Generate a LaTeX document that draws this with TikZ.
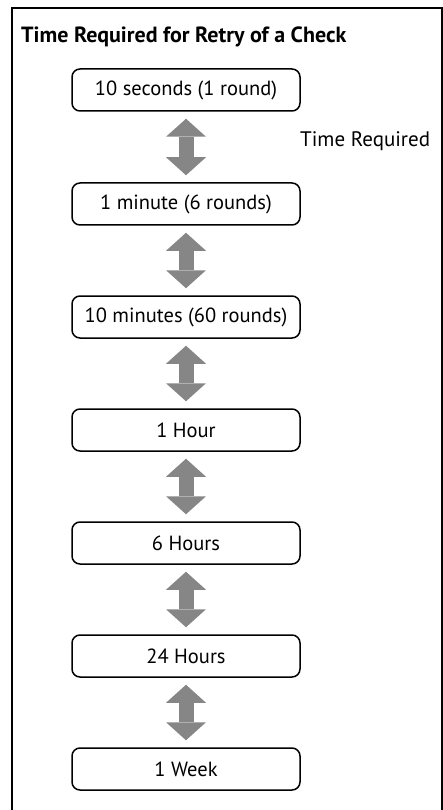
\documentclass[tikz,border=0pt]{standalone}
\usepackage{fontspec}
\setmainfont{PT Sans}
\usetikzlibrary{arrows.meta}
\definecolor{arrowgray}{HTML}{868686}
\tikzset{bigtip/.tip={Triangle[width=40pt,length=18pt,line width=0pt]}}
\begin{document}
\begin{tikzpicture}[x=1pt,y=-1pt,
  stage/.style={draw=black, line width=1.5pt, rounded corners=8pt,
    minimum width=228pt, minimum height=42pt, inner sep=0pt,
    font=\fontsize{20.5}{24}\selectfont},
  link/.style={draw=arrowgray, line width=15pt, {bigtip}-{bigtip},
    shorten <=7pt, shorten >=7pt}]
\useasboundingbox (0,0) rectangle (443,810);
\clip (0,0) rectangle (443,810);
% outer frame
\draw[line width=2pt] (12,8) rectangle (442,830);
% heading
\node[anchor=west, inner sep=0pt, font=\bfseries\fontsize{22}{26}\selectfont] (title) at (21,37) {Time Required for Retry of a Check};
% side label
\node[anchor=west, inner sep=0pt, font=\fontsize{21}{24}\selectfont] (label) at (300,141) {Time Required};
% stages
\node[stage] (s1) at (186,90) {10 seconds (1 round)};
\node[stage] (s2) at (186,204) {1 minute (6 rounds)};
\node[stage] (s3) at (186,317) {10 minutes (60 rounds)};
\node[stage] (s4) at (186,430) {1 Hour};
\node[stage] (s5) at (186,543) {6 Hours};
\node[stage] (s6) at (186,656) {24 Hours};
\node[stage] (s7) at (186,769) {1 Week};
% two-way arrows between stages
\foreach \a/\b in {s1/s2,s2/s3,s3/s4,s4/s5,s5/s6,s6/s7}
  \draw[link] (\a) -- (\b);
\end{tikzpicture}
\end{document}
